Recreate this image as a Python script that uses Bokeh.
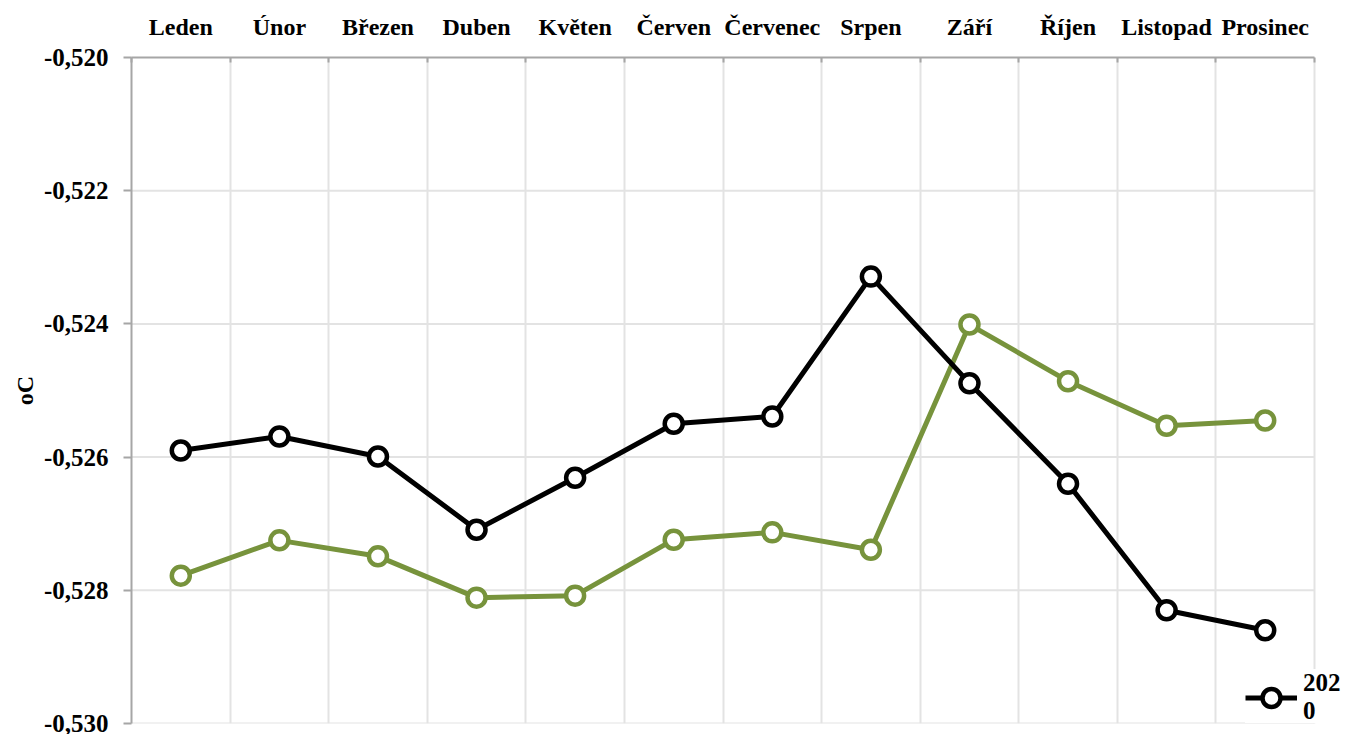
from bokeh.plotting import figure
from bokeh.models import FixedTicker, CustomJSTickFormatter, Range1d, Legend, LegendItem
from bokeh.embed import file_html
from bokeh.resources import INLINE

months = ["Leden", "Únor", "Březen", "Duben", "Květen", "Červen", "Červenec",
          "Srpen", "Září", "Říjen", "Listopad", "Prosinec"]
series_2020 = [-0.52590, -0.52569, -0.52599, -0.52709, -0.52631, -0.52550,
               -0.52539, -0.52329, -0.52489, -0.52640, -0.52830, -0.52860]
series_green = [-0.52778, -0.52725, -0.52749, -0.52811, -0.52808, -0.52724,
                -0.52713, -0.52739, -0.52401, -0.52486, -0.52553, -0.52545]
y_ticks = [-0.530, -0.528, -0.526, -0.524, -0.522, -0.520]
legend_label = "202\n0"   # "2020", wrapped as in the original

FONT = "Liberation Serif"
AXIS_GRAY = "#a6a6a6"
GRID_GRAY = "#e3e3e3"
GREEN = "#77933c"

n = len(months)
xs = [i + 0.5 for i in range(n)]

# plot area is 1183 px wide for the 12 months; the frame is extended to the right
# so that the legend (which sits partly outside the plot area) is not clipped
PLOT_PX = 1183
FRAME_PX = 1221
x_end = n * FRAME_PX / PLOT_PX

p = figure(frame_width=FRAME_PX, frame_height=666, output_backend="svg",
           toolbar_location=None, x_axis_location="above",
           x_range=Range1d(0, x_end), y_range=Range1d(y_ticks[0], y_ticks[-1]),
           min_border_left=131, min_border_top=57, min_border_right=0,
           min_border_bottom=11)
p.outline_line_color = None
p.background_fill_color = "white"

# x axis (top)
xax = p.xaxis[0]
xax.bounds = (0, n)
xax.ticker = FixedTicker(ticks=xs, minor_ticks=list(range(n + 1)))
xax.major_label_overrides = {x: m for x, m in zip(xs, months)}
xax.major_tick_line_color = None
xax.minor_tick_in = 5
xax.minor_tick_out = 0
xax.minor_tick_line_color = AXIS_GRAY
xax.minor_tick_line_width = 2
xax.axis_line_color = AXIS_GRAY
xax.axis_line_width = 2
xax.major_label_text_font = FONT
xax.major_label_text_font_style = "bold"
xax.major_label_text_font_size = "24px"
xax.major_label_text_color = "black"
xax.major_label_standoff = 12

# y axis
yax = p.yaxis[0]
yax.ticker = FixedTicker(ticks=y_ticks)
yax.formatter = CustomJSTickFormatter(code="return tick.toFixed(3).replace('.', ',');")
yax.axis_line_color = AXIS_GRAY
yax.axis_line_width = 2
yax.major_tick_line_color = AXIS_GRAY
yax.major_tick_line_width = 2
yax.major_tick_in = 0
yax.major_tick_out = 8
yax.minor_tick_line_color = None
yax.major_label_text_font = FONT
yax.major_label_text_font_style = "bold"
yax.major_label_text_font_size = "25px"
yax.major_label_text_color = "black"
yax.major_label_standoff = 15
yax.axis_label = "oC"
yax.axis_label_text_font = FONT
yax.axis_label_text_font_style = "bold"
yax.axis_label_text_font_size = "24px"
yax.axis_label_text_color = "black"
yax.axis_label_standoff = 3

# grids: vertical lines at month boundaries, horizontal lines limited to the plot area
p.xgrid.ticker = FixedTicker(ticks=list(range(1, n + 1)))
p.xgrid.grid_line_color = GRID_GRAY
p.xgrid.grid_line_width = 2
p.ygrid.grid_line_color = None
hy = y_ticks[:-1]
p.segment(x0=[0] * len(hy), x1=[n] * len(hy), y0=hy, y1=hy,
          line_color=GRID_GRAY, line_width=2)

# series
g_line = p.line(xs, series_green, line_color=GREEN, line_width=5)
g_pts = p.scatter(xs, series_green, size=18, marker="circle", fill_color="white",
                  line_color=GREEN, line_width=4.5)
b_line = p.line(xs, series_2020, line_color="black", line_width=5)
b_pts = p.scatter(xs, series_2020, size=18, marker="circle", fill_color="white",
                  line_color="black", line_width=4.5)

legend = Legend(items=[LegendItem(label=legend_label, renderers=[b_line, b_pts])],
                location=(1114, -2), background_fill_color="white",
                background_fill_alpha=1.0, border_line_color=None,
                label_text_font=FONT, label_text_font_style="bold",
                label_text_font_size="25px", label_text_color="black",
                label_text_line_height=1.0,
                glyph_width=52, glyph_height=45, label_standoff=6,
                padding=5, margin=0, spacing=0)
p.add_layout(legend, "center")

open("out.html", "w").write(file_html(p, INLINE))
